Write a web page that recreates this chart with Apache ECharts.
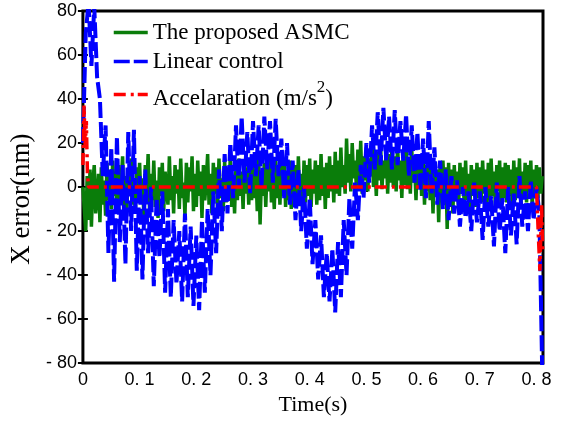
<!DOCTYPE html>
<html>
<head>
<meta charset="utf-8">
<script src="https://cdn.jsdelivr.net/npm/echarts@6/dist/echarts.min.js"></script>
<style>
html,body{margin:0;padding:0;background:#fff;}
#chart{width:561px;height:421px;}
</style>
</head>
<body>
<div id="chart"></div>
<script>
// Sampling periods of the recorded errors (s)
const DT_ASMC = 0.0025;
const DT_LINEAR = 0.005;

const seriesNames = ['The proposed ASMC', 'Linear control', 'Accelaration (m/s2)'];

const xTicks = [0, 0.1, 0.2, 0.3, 0.4, 0.5, 0.6, 0.7, 0.8];
const yTicks = [-80, -60, -40, -20, 0, 20, 40, 60, 80];

// X error of the proposed ASMC (nm), one value every DT_ASMC
const asmcError = [
  0, -10, -20, 5, -15, 8, -18, 2, 10, -12, -5, 6, -16, 9, -8, 3, -13, 11, -6, 4,
  -10, 12, -4, 7, -12, 10, -7, 2, 14, -9, 5, -11, 8, -3, 13, -8, 1, -12, 9, -5,
  11, -7, 4, -13, 10, -2, 15, -10, 6, -6, 12, -9, 3, -14, 9, -4, 11, -11, 7, -1,
  -8, 14, -6, 5, -12, 10, -3, 8, -10, 13, -5, 2, -13, 11, -7, 9, -2, 14, -11, 6,
  -9, 12, -4, 7, -14, 10, -6, 3, 15, -8, 6, -12, 11, -3, 9, -10, 13, -5, 4, -11,
  12, -7, 8, -2, 14, -9, 5, -12, 10, -6, 13, -4, 7, -10, 11, -3, 9, -8, 12, -6,
  10, -5, 8, -11, 13, -17, 6, -4, 11, -9, 9, -2, 14, -7, 5, -10, 12, -5, 8, -8,
  11, -4, 13, -9, 7, -6, 12, -10, 9, -3, 10, -8, 14, -5, 6, -11, 12, -7, 10, -4,
  13, -9, 8, -3, 12, -8, 10, -6, 15, -4, 9, -10, 11, -5, 14, -2, 10, -7, 16, -3,
  12, -4, 18, 0, 10, -3, 22, 2, 15, -2, 20, 4, 12, -1, 17, 1, 21, -3, 14, 3,
  18, -2, 13, 5, 19, 0, 11, -4, 16, 3, 20, -1, 12, 4, 18, -3, 15, 2, 17, 0,
  14, -2, 19, 3, 12, -5, 16, 1, 20, -1, 13, -3, 17, 2, 11, -6, 15, 0, 12, -4,
  13, -8, 10, -2, 12, -6, 9, -12, 11, -4, 8, -16, 10, -7, 12, -3, 9, -19, 11, -9,
  8, -12, 10, -5, 7, -10, 11, -3, 9, -8, 12, -6, 6, -10, 10, -4, 8, -9, 11, -5,
  9, -7, 12, -3, 8, -10, 11, -6, 13, -4, 7, -9, 10, -2, 12, -8, 9, -5, 11, -7,
  10, -4, 8, -9, 12, -6, 9, -3, 13, -8, 7, -5, 11, -7, 10, -2, 12, -9, 8, -4,
  10, -5, 9, -3, 5
];

// X error of the linear controller (nm), one value every DT_LINEAR
const linearError = [
  20, 70, 84, 55, 82, 50, 40, 5, 28, -30,
  18, -43, 23, -25, 10, -35, 25, -20, 26, -38,
  5, -42, 8, -30, 0, -45, -5, -32, -2, -48,
  -10, -50, -15, -44, -20, -52, -12, -50, -18, -54,
  -22, -56, -15, -48, -10, -40, -2, -30, 8, -20,
  15, -12, 20, -5, 28, 0, 32, 2, 25, -3,
  30, 5, 28, 0, 32, 8, 30, 2, 31, 5,
  22, -5, 20, -8, 12, -15, 8, -20, 0, -28,
  -5, -35, -15, -42, -22, -50, -30, -52, -28, -57,
  -25, -50, -15, -40, -5, -28, 2, -15, 10, -5,
  20, 2, 28, 8, 34, 10, 36, 12, 32, 8,
  35, 10, 30, 12, 33, 5, 28, 2, 25, -2,
  22, -5, 30, -3, 18, -8, 12, -10, 8, -15,
  5, -12, 3, -18, 0, -14, -2, -20, 2, -16,
  -2, -24, 0, -18, -4, -27, 2, -20, -5, -30,
  0, -22, -3, -26, 5, -18, -2, -20, 3, -15,
  0, -12, -82
];

// Acceleration reference (m/s^2): times and values
const accelTime  = [0, 0.002, 0.004, 0.006, 0.008, 0.010, 0.800, 0.803, 0.806, 0.809, 0.811];
const accelValue = [10, 37, 18, 30, 6, 0, 0, -20, -38, -8, -30];

const toPairs = (arr, dt) => arr.map((v, i) => [+(i * dt).toFixed(5), v]);
const accelPairs = accelTime.map((t, i) => [t, accelValue[i]]);

const sansFont = "'Liberation Sans', Arial, sans-serif";
const serifFont = "'Liberation Serif', 'Times New Roman', serif";

const xLabel = (v) => {
  if (Math.abs(v * 10 - Math.round(v * 10)) > 1e-6) return '';
  const k = Math.round(v * 10);
  if (k > 8) return '';
  return k === 0 ? '0' : '0. ' + k;
};
const yLabel = (v) => (v < 0 ? '- ' + (-v) : String(v));

const X_MAX = 0.8115;

const tickStyle = { show: true, inside: true, length: 5, lineStyle: { color: '#000', width: 2 } };

const chart = echarts.init(document.getElementById('chart'));
chart.setOption({
  animation: false,
  backgroundColor: '#fff',
  grid: {
    left: 78, right: 18, top: 11, bottom: 54,
    show: true, borderColor: '#000', borderWidth: 3, backgroundColor: 'transparent'
  },
  legend: {
    orient: 'vertical',
    left: 112, top: 21, padding: 0,
    itemWidth: 34, itemHeight: 14, itemGap: 6,
    data: seriesNames,
    itemStyle: { opacity: 0 },
    lineStyle: { width: 3.5 },
    textStyle: {
      fontFamily: serifFont, fontSize: 23, color: '#000',
      rich: {
        a: { fontFamily: serifFont, fontSize: 23, color: '#000', verticalAlign: 'bottom' },
        s: { fontFamily: serifFont, fontSize: 17, color: '#000', lineHeight: 31, verticalAlign: 'top' }
      }
    },
    formatter: (name) => name === seriesNames[2]
      ? '{a|Accelaration (m/s}{s|2}{a|)}'
      : name
  },
  xAxis: [
    {
      type: 'value', min: 0, max: X_MAX, interval: 0.1, position: 'bottom',
      name: 'Time(s)', nameLocation: 'middle', nameGap: 24,
      nameTextStyle: { fontFamily: serifFont, fontSize: 22, color: '#000' },
      axisLine: { show: false },
      axisTick: tickStyle,
      axisLabel: { formatter: xLabel, fontFamily: sansFont, fontSize: 18, color: '#000', margin: 8 },
      splitLine: { show: false }
    },
    {
      type: 'value', min: 0, max: X_MAX, interval: 0.1, position: 'top',
      axisLine: { show: false },
      axisTick: tickStyle,
      axisLabel: { show: false },
      splitLine: { show: false }
    }
  ],
  yAxis: [
    {
      type: 'value', min: -80, max: 80, interval: 20, position: 'left',
      name: 'X error(nm)', nameLocation: 'middle', nameGap: 45,
      nameTextStyle: { fontFamily: serifFont, fontSize: 27, color: '#000', padding: [0, 24, 0, 0] },
      axisLine: { show: false },
      axisTick: tickStyle,
      axisLabel: { formatter: yLabel, fontFamily: sansFont, fontSize: 18, color: '#000', margin: 6 },
      splitLine: { show: false }
    },
    {
      type: 'value', min: -80, max: 80, interval: 20, position: 'right',
      axisLine: { show: false },
      axisTick: tickStyle,
      axisLabel: { show: false },
      splitLine: { show: false }
    }
  ],
  series: [
    {
      name: seriesNames[0], type: 'line', data: toPairs(asmcError, DT_ASMC),
      showSymbol: false, symbol: 'none', clip: true, z: 2,
      lineStyle: { color: '#0a7d0a', width: 3.5, type: 'solid' },
      itemStyle: { color: '#0a7d0a' }
    },
    {
      name: seriesNames[1], type: 'line', data: toPairs(linearError, DT_LINEAR),
      showSymbol: false, symbol: 'none', clip: true, z: 3,
      lineStyle: { color: '#0000ff', width: 4, type: [16, 4] },
      itemStyle: { color: '#0000ff' }
    },
    {
      name: seriesNames[2], type: 'line', data: accelPairs,
      showSymbol: false, symbol: 'none', clip: true, z: 4,
      lineStyle: { color: '#ff0000', width: 3.5, type: [12, 5, 3, 4] },
      itemStyle: { color: '#ff0000' }
    }
  ]
});
</script>
</body>
</html>
